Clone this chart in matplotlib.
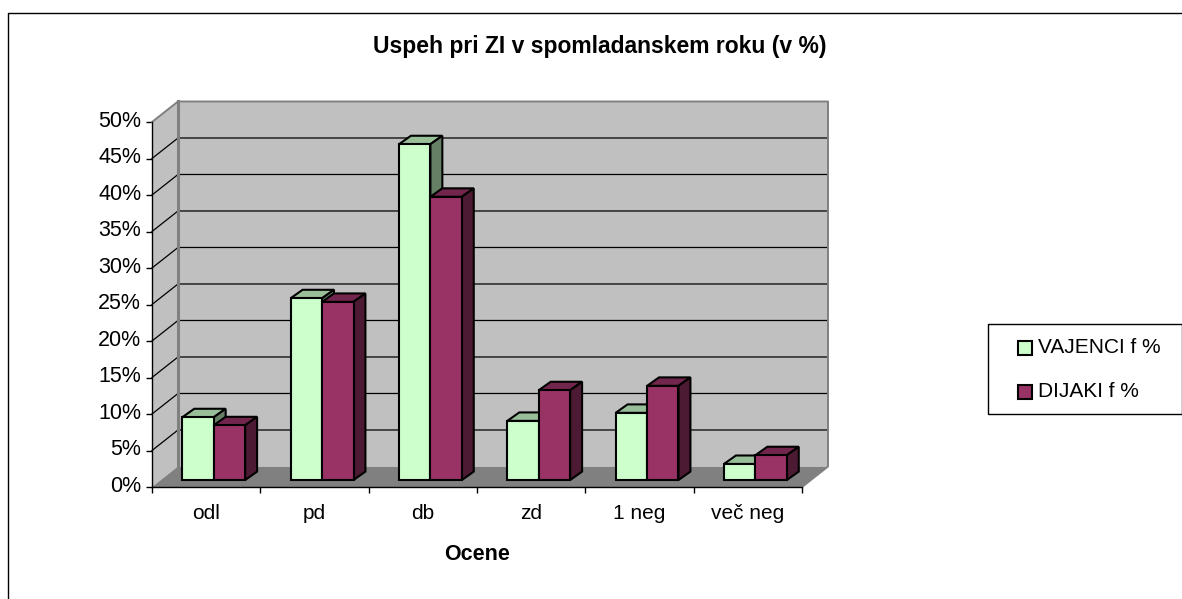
import matplotlib
matplotlib.use('Agg')
import matplotlib.pyplot as plt
from matplotlib.legend_handler import HandlerPatch
from matplotlib.lines import Line2D
from matplotlib.patches import Patch, Rectangle
from matplotlib.transforms import ScaledTranslation

plt.rcParams['font.family'] = ['Liberation Sans', 'DejaVu Sans']

#values
categories = ['odl', 'pd', 'db', 'zd', '1 neg', 've\u010d neg']
vajenci = [8.6, 24.9, 46.0, 8.1, 9.2, 2.2]
dijaki = [7.5, 24.4, 38.8, 12.3, 12.9, 3.4]
y_ticks = [0, 5, 10, 15, 20, 25, 30, 35, 40, 45, 50]
title = 'Uspeh pri ZI v spomladanskem roku (v %)'
x_title = 'Ocene'
series_names = ['VAJENCI f %', 'DIJAKI f %']

green = (0.8, 1.0, 0.8)
purple = (0.6, 0.2, 0.4)
wall = '#c0c0c0'
floor = '#808080'

#fake 3d offsets in data units
depth_x = 0.24
depth_y = 2.81
bar_off_x = 0.082
bar_off_y = 0.955
bar_dx = 0.11
bar_dy = 1.16
gap = 0.198
bar_w = 0.29
lw = 1.5

def shade(col, k):
	return (col[0]*k, col[1]*k, col[2]*k)

#draws one bar: front through ax.bar, then the top and side faces
def drawBar(ax, x, value, col, z):
	top = bar_off_y + value
	ax.bar(x, value, bar_w, bottom=bar_off_y, align='edge', color=col, edgecolor='black', linewidth=lw, zorder=z+1)
	ax.fill([x, x+bar_dx, x+bar_w+bar_dx, x+bar_w], [top, top+bar_dy, top+bar_dy, top],
		facecolor=shade(col, 0.75), edgecolor='black', linewidth=lw, zorder=z, clip_on=False)
	ax.fill([x+bar_w, x+bar_w+bar_dx, x+bar_w+bar_dx, x+bar_w], [bar_off_y, bar_off_y+bar_dy, top+bar_dy, top],
		facecolor=shade(col, 0.5), edgecolor='black', linewidth=lw, zorder=z, clip_on=False)

#legend square sits at the right end of a wide handle
def legendSquare(legend, orig_handle, xdescent, ydescent, width, height, fontsize):
	return Rectangle((width-10, -1.5), 10, 10)

fig = plt.figure(figsize=(11.82, 5.99), dpi=100)
ax = fig.add_axes([152/1182, (599-487)/599, 650/1182, 365/599])
n = len(categories)
ymax = y_ticks[-1]
ax.set_xlim(0, n)
ax.set_ylim(0, ymax)
ax.patch.set_visible(False)
for name in ['top', 'right']:
	ax.spines[name].set_visible(False)
ax.spines['left'].set_linewidth(1.0)
ax.spines['bottom'].set_linewidth(1.0)
ax.spines['left'].set_zorder(9)
ax.spines['bottom'].set_zorder(9)

#walls and floor
ax.fill([0, depth_x, depth_x, 0], [0, depth_y, ymax+depth_y, ymax], color=wall, lw=0, zorder=1, clip_on=False)
ax.fill([depth_x, n+depth_x, n+depth_x, depth_x], [depth_y, depth_y, ymax+depth_y, ymax+depth_y], color=wall, lw=0, zorder=1, clip_on=False)
ax.fill([0, n, n+depth_x, depth_x], [0, 0, depth_y, depth_y], color=floor, lw=0, zorder=1, clip_on=False)

#gridlines
for t in y_ticks[1:-1]:
	ax.plot([0, depth_x, n+depth_x], [t, t+depth_y, t+depth_y], color='black', lw=0.9, zorder=2, clip_on=False)
ax.plot([0, depth_x, n+depth_x, n+depth_x, n], [ymax, ymax+depth_y, ymax+depth_y, depth_y, 0], color=floor, lw=1.4, zorder=2, clip_on=False)
ax.plot([depth_x, depth_x], [depth_y, ymax+depth_y], color=floor, lw=2.2, zorder=2, clip_on=False)

#bars
for i in range(n):
	x0 = i + gap + bar_off_x
	drawBar(ax, x0, vajenci[i], green, 3)
	drawBar(ax, x0+bar_w, dijaki[i], purple, 5)

#ticks
ax.set_yticks(y_ticks)
ax.set_yticklabels([str(t) + '%' for t in y_ticks], fontsize=15.5)
ax.set_xticks(range(n+1))
ax.set_xticklabels([])
ax.set_xticks([i+0.5 for i in range(n)], minor=True)
ax.set_xticklabels(categories, minor=True, fontsize=15)
ax.tick_params(axis='y', length=4.3, width=1.0, pad=3.5)
ax.tick_params(axis='x', which='major', length=4.3, width=1.0)
ax.tick_params(axis='x', which='minor', length=0, pad=12)
#y labels sit a little above their ticks
for label in ax.get_yticklabels():
	label.set_transform(label.get_transform() + ScaledTranslation(0, 2.5/72, fig.dpi_scale_trans))

ax.set_xlabel(x_title, fontsize=15.5, fontweight='bold', labelpad=15)
fig.text(600/1182, 1-47/599, title, fontsize=16.5, fontweight='bold', ha='center', va='center')

#legend box runs off the right edge
handles = [Patch(facecolor=green, edgecolor='black', linewidth=1.5), Patch(facecolor=purple, edgecolor='black', linewidth=1.5)]
fig.legend(handles, series_names, loc='upper left', bbox_to_anchor=(988/1182, 1-416/599, 194/1182, 92/599),
	mode='expand', borderaxespad=0, fancybox=False, framealpha=1, edgecolor='black', fontsize=15,
	handlelength=1.45, handletextpad=0.3, labelspacing=1.2, borderpad=0.65,
	handler_map={Patch: HandlerPatch(patch_func=legendSquare)})

#chart area border, only top and left are inside the picture
fig.add_artist(Line2D([8/1182, 8/1182, 1], [0, 1-13/599, 1-13/599], color='black', lw=1.0))

fig.savefig('out.png', dpi=100)
